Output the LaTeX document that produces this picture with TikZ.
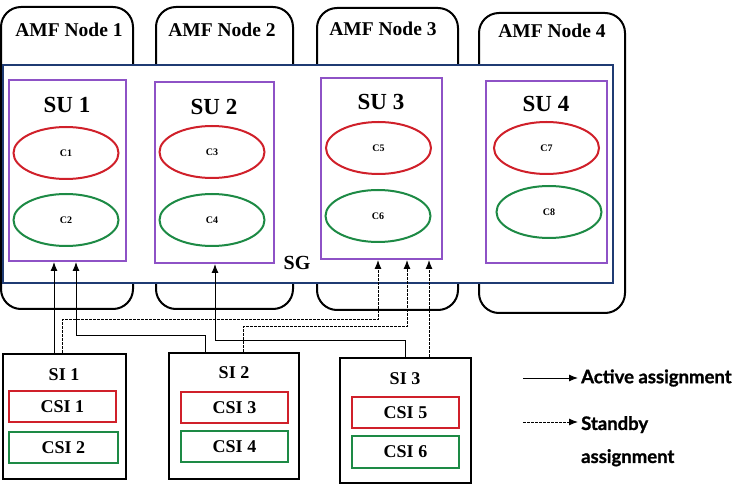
\documentclass[tikz,border=0pt]{standalone}
\usepackage{fontspec}
\setmainfont{Liberation Serif}
\newfontfamily\legendfont{Lato Bold}[FakeBold=1.2]
\usetikzlibrary{arrows.meta,shapes.geometric}

\definecolor{sgblue}{RGB}{31,59,115}
\definecolor{supurple}{RGB}{142,82,198}
\definecolor{actred}{RGB}{208,32,42}
\definecolor{stbgreen}{RGB}{29,138,69}

\begin{document}
\begin{tikzpicture}[x=1pt,y=-1pt,
    amfbox/.style={draw=black,line width=2pt,rounded corners=20pt,inner sep=0pt},
    sgbox/.style={draw=sgblue,line width=2pt,fill=white,inner sep=0pt},
    subox/.style={draw=supurple,line width=2pt,inner sep=0pt},
    comp/.style={ellipse,draw=#1,line width=2pt,minimum width=105pt,minimum height=52pt,inner sep=0pt,font=\bfseries\fontsize{10}{10}\selectfont},
    sibox/.style={draw=black,line width=2pt,inner sep=0pt},
    csibox/.style={draw=#1,line width=2pt,minimum height=31pt,inner sep=0pt,font=\bfseries\fontsize{18}{18}\selectfont},
    lbl/.style={font=\bfseries\fontsize{#1}{#1}\selectfont,inner sep=0pt},
    active/.style={line width=1pt,-{Latex[length=9pt,width=7pt]}},
    standby/.style={line width=1pt,dash pattern=on 2.5pt off 1.5pt,-{Latex[length=9pt,width=7pt]}}]
    \useasboundingbox (0,0) rectangle (745,489);

    % AMF nodes
    \node[amfbox,minimum width=132pt,minimum height=302pt] (amf1) at (67,158) {};
    \node[amfbox,minimum width=137pt,minimum height=302pt] (amf2) at (224.5,158) {};
    \node[amfbox,minimum width=141pt,minimum height=302pt] (amf3) at (387.5,159) {};
    \node[amfbox,minimum width=146pt,minimum height=300pt] (amf4) at (552,163) {};
    \node[lbl=19.5] at (69,30) {AMF Node 1};
    \node[lbl=19.5] at (222,30) {AMF Node 2};
    \node[lbl=19.5] at (383,29) {AMF Node 3};
    \node[lbl=19.5] at (552,31) {AMF Node 4};

    % service group
    \node[sgbox,minimum width=610pt,minimum height=218pt] (sg) at (308,174) {};
    \node[lbl=20] at (297,263) {SG};

    % service units
    \node[subox,minimum width=117pt,minimum height=181pt] (su1) at (67.5,170.5) {};
    \node[subox,minimum width=119pt,minimum height=181pt] (su2) at (214.5,172.5) {};
    \node[subox,minimum width=121pt,minimum height=181pt] (su3) at (381.5,168.5) {};
    \node[subox,minimum width=121pt,minimum height=182pt] (su4) at (546.5,172) {};
    \node[lbl=23] at (67,105) {SU 1};
    \node[lbl=23] at (214,107) {SU 2};
    \node[lbl=23] at (381,102) {SU 3};
    \node[lbl=23] at (546,104) {SU 4};

    % components
    \node[comp=actred] (c1) at (66,153) {C1};
    \node[comp=stbgreen] (c2) at (66,220) {C2};
    \node[comp=actred] (c3) at (212,152) {C3};
    \node[comp=stbgreen] (c4) at (212,220) {C4};
    \node[comp=actred] (c5) at (378.5,148) {C5};
    \node[comp=stbgreen] (c6) at (378,216) {C6};
    \node[comp=actred] (c7) at (546.5,148) {C7};
    \node[comp=stbgreen] (c8) at (549,212) {C8};

    % service instances
    \node[sibox,minimum width=123pt,minimum height=125pt] (si1) at (64.5,416.5) {};
    \node[sibox,minimum width=130pt,minimum height=126pt] (si2) at (234,416) {};
    \node[sibox,minimum width=131pt,minimum height=125pt] (si3) at (405.5,420.5) {};
    \node[lbl=18] at (64,375) {SI 1};
    \node[lbl=18] at (234,373) {SI 2};
    \node[lbl=18] at (405,379) {SI 3};
    \node[csibox=actred,minimum width=107pt] (csi1) at (62.5,406.5) {CSI 1};
    \node[csibox=stbgreen,minimum width=109pt] (csi2) at (63.5,447.5) {CSI 2};
    \node[csibox=actred,minimum width=107pt] (csi3) at (234.5,407.5) {CSI 3};
    \node[csibox=stbgreen,minimum width=107pt] (csi4) at (234.5,446.5) {CSI 4};
    \node[csibox=actred,minimum width=107pt] (csi5) at (405.5,412.5) {CSI 5};
    \node[csibox=stbgreen,minimum width=107pt,minimum height=32pt] (csi6) at (405.5,452) {CSI 6};

    % assignments
    \draw[active] ([xshift=52pt]si1.north west) -- ([xshift=46pt]su1.south west);
    \draw[standby] ([xshift=60pt]si1.north west) -- ++(0,-33) -| ([xshift=58pt]su3.south west);
    \draw[active] ([xshift=37pt]si2.north west) -- ++(0,-16) -| ([xshift=68pt]su1.south west);
    \draw[standby] ([xshift=75pt]si2.north west) -- ++(0,-25) -| ([xshift=87pt]su3.south west);
    \draw[active] ([xshift=66pt]si3.north west) -- ++(0,-16) -| ([xshift=61pt]su2.south west);
    \draw[standby] ([xshift=90pt]si3.north west) -- ([xshift=109pt]su3.south west);

    % legend
    \coordinate (actA) at (523,378);
    \coordinate (stbA) at (523,422);
    \node[anchor=west,inner sep=0pt,font=\legendfont\fontsize{18.5}{20}\selectfont] (actlbl) at (581,378) {Active assignment};
    \node[anchor=north west,inner sep=0pt,align=left,font=\legendfont\fontsize{18.5}{33}\selectfont] (stblbl) at (581,416) {Standby\\assignment};
    \draw[active] (actA) -- ([xshift=-3pt]actlbl.west);
    \draw[standby] (stbA) -- ([xshift=-3pt]stbA -| stblbl.west);
\end{tikzpicture}
\end{document}
